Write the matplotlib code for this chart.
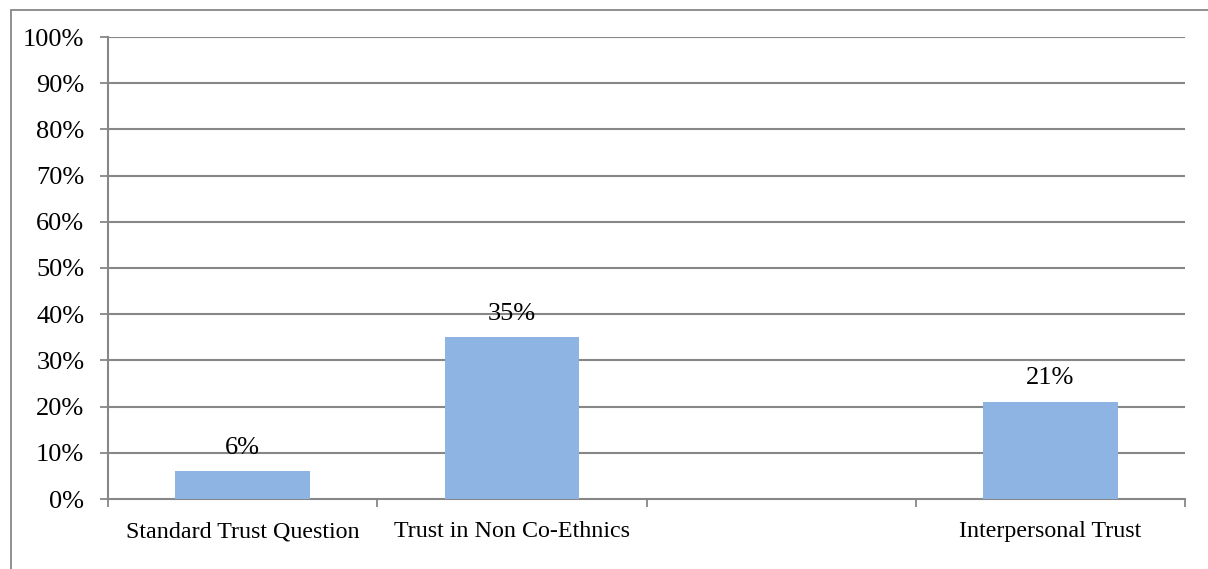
import matplotlib.pyplot as plt
from matplotlib.patches import Rectangle
import numpy as np

# trust measures, share of respondents
categories = ['Standard Trust Question', 'Trust in Non Co-Ethnics', '', 'Interpersonal Trust']
values = [0.06, 0.35, None, 0.21]
value_labels = ['6%', '35%', '', '21%']
y_ticks = [0.0, 0.1, 0.2, 0.3, 0.4, 0.5, 0.6, 0.7, 0.8, 0.9, 1.0]
y_tick_labels = ['0%', '10%', '20%', '30%', '40%', '50%', '60%', '70%', '80%', '90%', '100%']

plt.rcParams['font.family'] = ['Liberation Serif', 'DejaVu Serif']
grey = '#878787'
bar_color = '#8EB4E3'

fig = plt.figure(figsize=(12.08, 5.69), dpi=100)

# chart area border (runs off the right and bottom)
fig.patches.append(Rectangle((11 / 1208, -0.1), 1.2, 1 - 10 / 569 + 0.1,
                             transform=fig.transFigure, fill=False,
                             edgecolor=grey, linewidth=1.3))

ax = fig.add_axes([108 / 1208, 1 - 499 / 569, (1185 - 108) / 1208, (499 - 37) / 569])

x = np.arange(len(categories))
for i, v in enumerate(values):
    if v is None:
        continue
    ax.bar(x[i], v, width=0.5, color=bar_color, zorder=3)
    ax.annotate(value_labels[i], (x[i], v), xytext=(0, 9), textcoords='offset points',
                ha='center', va='bottom', fontsize=19)

ax.set_xlim(-0.5, len(categories) - 0.5)
ax.set_ylim(0, 1.0)
ax.set_yticks(y_ticks)
ax.set_yticklabels(y_tick_labels, fontsize=19)

# category labels centred, tick marks on category boundaries
ax.set_xticks(x)
ax.set_xticklabels(categories, fontsize=17.3)
ax.tick_params(axis='x', which='major', length=0, pad=16)
ax.set_xticks(np.arange(-0.5, len(categories)), minor=True)
ax.tick_params(axis='x', which='minor', length=6, width=1.3, color=grey, direction='out')
ax.tick_params(axis='y', length=6, width=1.3, color=grey, direction='out', pad=11)

for yv in y_ticks[1:]:
    ax.axhline(yv, color=grey, linewidth=1.5, zorder=1)

for s in ['top', 'right']:
    ax.spines[s].set_visible(False)
for s in ['left', 'bottom']:
    ax.spines[s].set_color(grey)
    ax.spines[s].set_linewidth(1.5)

fig.savefig('out.png', dpi=100)
